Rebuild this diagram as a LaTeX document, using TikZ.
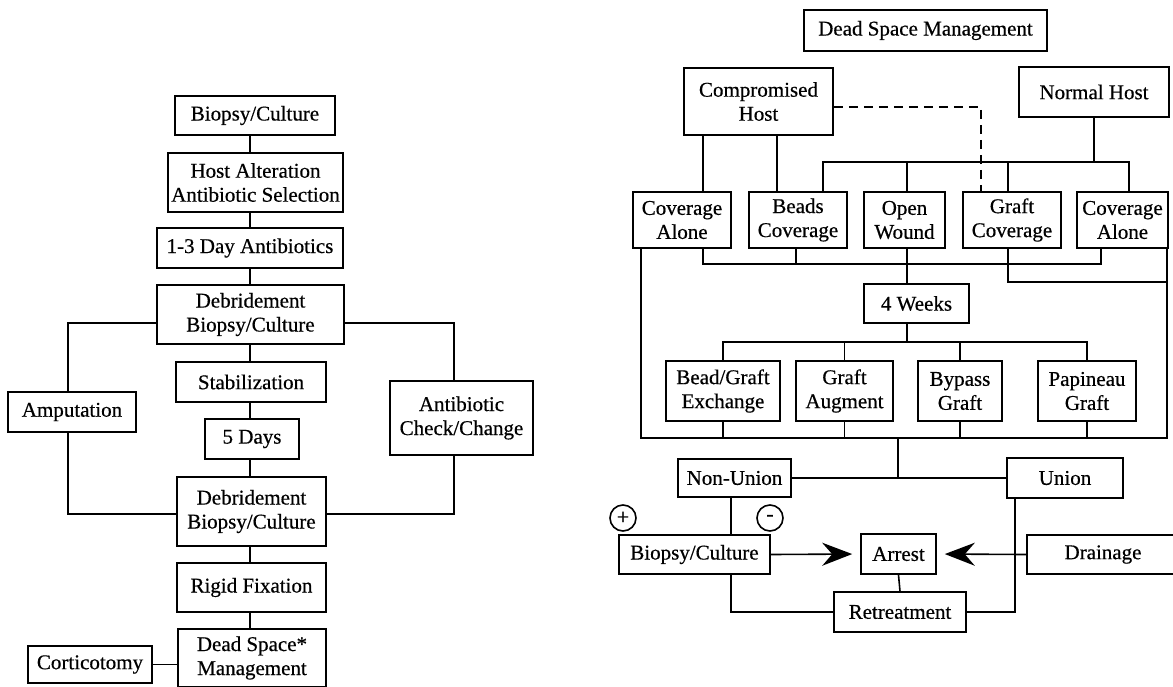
\documentclass[tikz,border=0pt]{standalone}
\usepackage{fontspec}
\setmainfont{Liberation Serif}
\newfontfamily\boxfont{Liberation Serif}[FakeBold=0.5]
\usetikzlibrary{arrows.meta}

\begin{document}
\begin{tikzpicture}[x=1pt, y=-1pt,
    box/.style={draw, black, line width=1.6pt, inner sep=0pt, align=center,
      font=\boxfont\fontsize{21}{24}\selectfont},
    wire/.style={black, line width=1.6pt},
    sign/.style={draw, circle, line width=1.6pt, minimum size=26pt, inner sep=0pt,
      font=\boxfont\fontsize{22}{22}\selectfont},
    bigtip/.style={-{Stealth[length=30pt, width=23pt, inset=10pt]}, shorten >=8pt}]
  \useasboundingbox (0,0) rectangle (1173,686);
  \clip (0,0) rectangle (1173,686);

  % left chart
  \node[box, minimum width=160pt, minimum height=39pt] (bc1) at (255,115.5) {Biopsy/Culture};
  \node[box, minimum width=175pt, minimum height=59pt] (hostalt) at (255.5,182.5) {Host Alteration\\Antibiotic Selection};
  \node[box, minimum width=186pt, minimum height=40pt] (days13) at (250,248) {1-3 Day Antibiotics};
  \node[box, minimum width=187pt, minimum height=59pt] (debr1) at (250.5,314.5) {Debridement\\Biopsy/Culture};
  \node[box, minimum width=150pt, minimum height=40pt] (stab) at (251,382) {Stabilization};
  \node[box, minimum width=128pt, minimum height=40pt] (amp) at (72,412) {Amputation};
  \node[box, minimum width=94pt, minimum height=40pt] (days5) at (252,439) {5 Days};
  \node[box, minimum width=143pt, minimum height=74pt] (abx) at (461.5,418) {Antibiotic\\Check/Change};
  \node[box, minimum width=149pt, minimum height=69pt] (debr2) at (251.5,511.5) {Debridement\\Biopsy/Culture};
  \node[box, minimum width=149pt, minimum height=49pt] (rigid) at (251.5,587.5) {Rigid Fixation};
  \node[box, minimum width=148pt, minimum height=58pt] (dsm1) at (252,658) {Dead Space*\\Management};
  \node[box, minimum width=124pt, minimum height=37pt] (cort) at (90,664.5) {Corticotomy};

  \coordinate (main) at (250,0);
  \coordinate (sideL) at (68,323);
  \coordinate (sideR) at (454,323);
  \coordinate (lowL) at (68,514);

  \foreach \a/\b in {bc1/hostalt, hostalt/days13, days13/debr1, debr1/stab,
                     stab/days5, days5/debr2, debr2/rigid, rigid/dsm1}
    \draw[wire] (main |- \a.south) -- (main |- \b.north);
  \draw[wire] (debr1.west |- sideL) -- (sideL) -- (sideL |- amp.north);
  \draw[wire] (sideL |- amp.south) -- (lowL) -- (lowL -| debr2.west);
  \draw[wire] (debr1.east |- sideR) -- (sideR) -- (sideR |- abx.north);
  \draw[wire] (sideR |- abx.south) -- (sideR |- lowL) -- (lowL -| debr2.east);
  \draw[wire] (cort.east) -- (cort.east -| dsm1.west);

  % right chart
  \node[box, minimum width=243pt, minimum height=41pt] (dsm2) at (925.5,30.5) {Dead Space Management};
  \node[box, minimum width=149pt, minimum height=67pt] (comp) at (758.5,101.5) {Compromised\\Host};
  \node[box, minimum width=150pt, minimum height=50pt] (normal) at (1094,92) {Normal Host};

  \node[box, minimum width=98pt, minimum height=56pt] (cal) at (682,220) {Coverage\\Alone};
  \node[box, minimum width=98pt, minimum height=56pt] (beads) at (798,220) {Beads\\Coverage};
  \node[box, minimum width=81pt, minimum height=56pt] (open) at (904.5,220) {Open\\Wound};
  \node[box, minimum width=98pt, minimum height=56pt] (graftc) at (1012,220) {Graft\\Coverage};
  \node[box, minimum width=91pt, minimum height=56pt] (car) at (1122.5,220) {Coverage\\Alone};

  \node[box, minimum width=105pt, minimum height=39pt] (weeks) at (916.5,303.5) {4 Weeks};

  \node[box, minimum width=114pt, minimum height=60pt] (bge) at (723,391) {Bead/Graft\\Exchange};
  \node[box, minimum width=97pt, minimum height=60pt] (aug) at (844.5,391) {Graft\\Augment};
  \node[box, minimum width=84pt, minimum height=60pt] (bypass) at (960,391) {Bypass\\Graft};
  \node[box, minimum width=98pt, minimum height=60pt] (pap) at (1087,391) {Papineau\\Graft};

  \node[box, minimum width=113pt, minimum height=38pt] (nonunion) at (734.5,478) {Non-Union};
  \node[box, minimum width=116pt, minimum height=40pt] (union) at (1065,478) {Union};
  \node[sign] (plus) at (623,518) {+};
  \node[sign] (minus) at (770,518) {-};
  \node[box, minimum width=151pt, minimum height=39pt] (bc2) at (694.5,554.5) {Biopsy/Culture};
  \node[box, minimum width=75pt, minimum height=40pt] (arrest) at (898.5,554) {Arrest};
  \node[box, minimum width=152pt, minimum height=39pt] (drain) at (1103,554.5) {Drainage};
  \node[box, minimum width=132pt, minimum height=40pt] (retreat) at (900,612) {Retreatment};

  \coordinate (busN) at (0,162);
  \coordinate (busL) at (0,264);
  \coordinate (busG) at (0,282);
  \coordinate (busW) at (0,342);
  \coordinate (busB) at (0,438);
  \coordinate (xl) at (641,0);
  \coordinate (xr) at (1167,0);
  \coordinate (xc1) at (703,0);
  \coordinate (xc2) at (777,0);
  \coordinate (xbe) at (823,0);
  \coordinate (xb) at (796,0);
  \coordinate (xo) at (907,0);
  \coordinate (xd) at (981,0);
  \coordinate (xg) at (1008,0);
  \coordinate (xa) at (1101,0);
  \coordinate (xn) at (1129,0);
  \coordinate (xm) at (898,0);
  \coordinate (xnu) at (731,0);
  \coordinate (xu) at (1015,0);

  \draw[wire] (comp.south -| xc1) -- (cal.north -| xc1);
  \draw[wire] (comp.south -| xc2) -- (beads.north -| xc2);
  \draw[wire] (normal.south) -- (normal.south |- busN);
  \draw[wire] (beads.north -| xbe) |- (busN -| xn) -- (car.north -| xn);
  \foreach \n/\x in {open/xo, graftc/xg}
    \draw[wire] (\n.north -| \x) -- (busN -| \x);
  \draw[wire, dash pattern=on 9pt off 6pt] ([yshift=-5.5pt]comp.east) -| (graftc.north -| xd);

  \draw[wire] (cal.south -| xc1) |- (busL -| xa) -- (car.south -| xa);
  \draw[wire] (beads.south -| xb) -- (busL -| xb);
  \draw[wire] (open.south -| xo) -- (weeks.north -| xo);
  \draw[wire] (graftc.south -| xg) |- (busG -| xr);
  \draw[wire] (car.south -| xr) -- (busB -| xr) -- (busB -| xl) -- (cal.south -| xl);

  \draw[wire] (weeks.south -| xo) -- (busW -| xo);
  \draw[wire] (bge.north) |- (busW -| pap.north) -- (pap.north);
  \foreach \n in {aug, bypass}
    \draw[wire] (\n.north) -- (\n.north |- busW);
  \foreach \n in {bge, aug, bypass, pap}
    \draw[wire] (\n.south) -- (\n.south |- busB);

  \draw[wire] (busB -| xm) -- (nonunion.east -| xm);
  \draw[wire] (nonunion.east) -- (union.west);
  \draw[wire] (nonunion.south -| xnu) -- (bc2.north -| xnu);
  \draw[wire] (bc2.south -| xnu) |- (retreat.west);
  \draw[wire] (union.south -| xu) |- (retreat.east);
  \draw[wire] (arrest.south) -- (retreat.north);
  \draw[wire, bigtip] (bc2.east) -- (arrest.west);
  \draw[wire, bigtip] (drain.west) -- (arrest.east);
\end{tikzpicture}
\end{document}
